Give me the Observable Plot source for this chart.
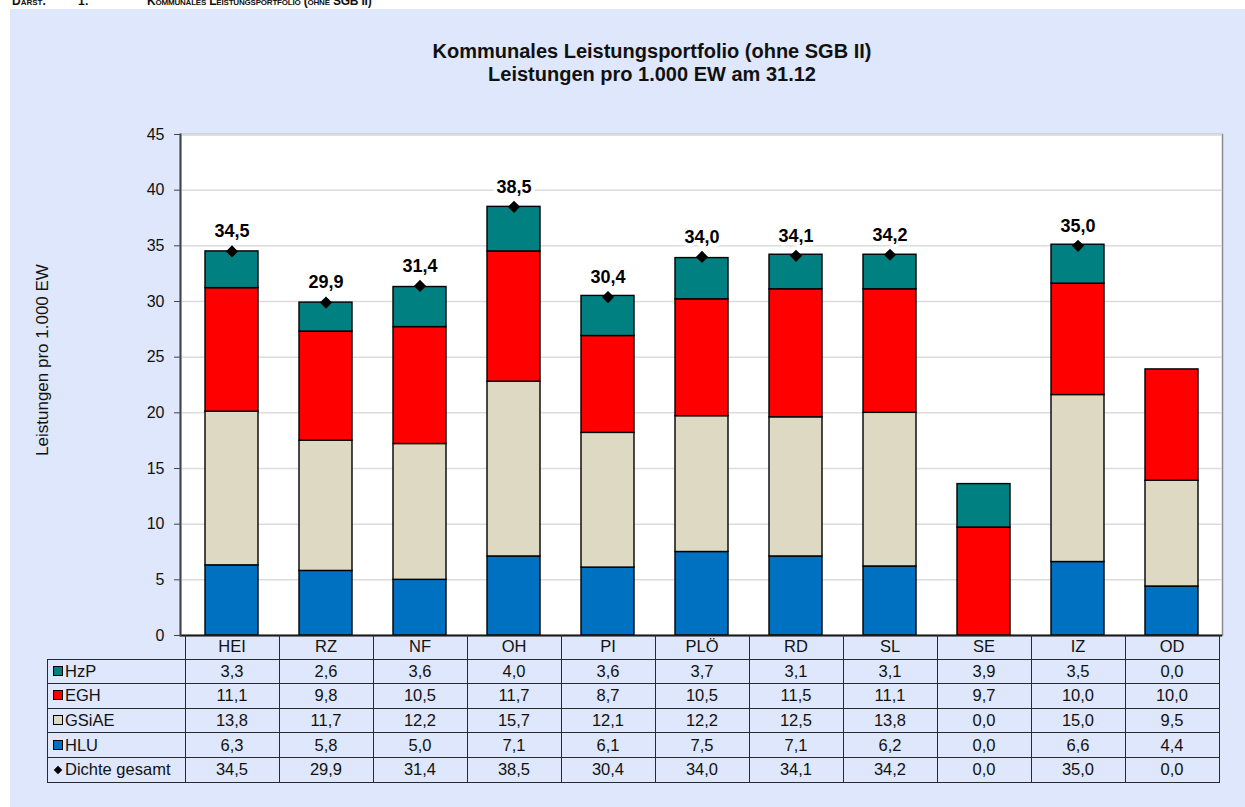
<!DOCTYPE html>
<html><head><meta charset="utf-8">
<script src="https://cdn.jsdelivr.net/npm/d3@7"></script>
<script src="https://cdn.jsdelivr.net/npm/@observablehq/plot@0.6"></script>
<style>
html,body{margin:0;padding:0;background:#fff;overflow:hidden;}
#root{position:relative;width:1245px;height:807px;font-family:Arial,"Liberation Sans",sans-serif;color:#111;overflow:hidden;}
#panel{position:absolute;left:10px;top:9px;right:0;bottom:0;background:#dee7fb;}
#hdr{position:absolute;top:-5px;left:12px;font-weight:bold;font-size:12px;line-height:13px;font-variant:small-caps;white-space:nowrap;color:#111;}
#title{position:absolute;left:352px;width:600px;top:40px;text-align:center;font-weight:bold;font-size:20px;line-height:23px;color:#111;}
#ylab{position:absolute;left:43px;top:360px;transform:translate(-50%,-50%) rotate(-90deg);font-size:17px;white-space:nowrap;color:#111;}
#chart{position:absolute;left:0;top:0;}
#tbl{position:absolute;top:635px;left:47px;border-collapse:collapse;table-layout:fixed;font-size:16.5px;color:#111;}
#tbl td{border:1px solid #2a2a2a;height:23.6px;padding:0;text-align:center;white-space:nowrap;}
#tbl td.lab{text-align:left;padding-left:5px;}
#tbl tr.head td{border-top:none;}
#tbl td.blank{border:none;}
.sw{display:inline-block;width:8px;height:8px;border:1px solid #000;margin-right:2px;vertical-align:1px;}
.dm{display:inline-block;width:6px;height:6px;background:#000;transform:rotate(45deg);margin:0 4px 0 2px;vertical-align:2px;}
</style>
</head><body>
<div id="root">
  <div id="panel"></div>
  <div id="hdr"><span>Darst.</span><span style="position:absolute;left:66px;">1:</span><span style="position:absolute;left:135px;letter-spacing:-0.2px;">Kommunales Leistungsportfolio (ohne SGB II)</span></div>
  <div id="title">Kommunales Leistungsportfolio (ohne SGB II)<br>Leistungen pro 1.000 EW am 31.12</div>
  <div id="chart"></div>
  <div id="ylab">Leistungen pro 1.000 EW</div>
</div>
<script>
const categories = ["HEI","RZ","NF","OH","PI","PLÖ","RD","SL","SE","IZ","OD"];
const HzP   = [3.3, 2.6, 3.6, 4.0, 3.6, 3.7, 3.1, 3.1, 3.9, 3.5, 0.0];
const EGH   = [11.1, 9.8, 10.5, 11.7, 8.7, 10.5, 11.5, 11.1, 9.7, 10.0, 10.0];
const GSiAE = [13.8, 11.7, 12.2, 15.7, 12.1, 12.2, 12.5, 13.8, 0.0, 15.0, 9.5];
const HLU   = [6.3, 5.8, 5.0, 7.1, 6.1, 7.5, 7.1, 6.2, 0.0, 6.6, 4.4];
const dichte = [34.5, 29.9, 31.4, 38.5, 30.4, 34.0, 34.1, 34.2, 0.0, 35.0, 0.0];
const seriesNames = ["HLU","GSiAE","EGH","HzP"];       // stack order bottom -> top
const seriesColors = ["#0070c0","#ddd9c3","#ff0000","#008080"];
const yTicks = [0,5,10,15,20,25,30,35,40,45];
const tableRows = [["HzP",HzP],["EGH",EGH],["GSiAE",GSiAE],["HLU",HLU]];

const fmt = v => v.toFixed(1).replace(".", ",");
const seriesData = {HLU, GSiAE, EGH, HzP};
const rows = [];
categories.forEach((c,i) => seriesNames.forEach(s => rows.push({cat:c, series:s, value:seriesData[s][i]})));
const totals = categories.map((c,i) => ({cat:c, total:dichte[i]})).filter(d => d.total > 0);

const font = 'Arial, "Liberation Sans", sans-serif';
const chart = Plot.plot({
  width: 1245, height: 640,
  marginLeft: 180, marginRight: 23, marginTop: 134, marginBottom: 5,
  style: {background:"transparent", fontFamily: font, fontSize:"16px", color:"#111", overflow:"visible"},
  x: {domain: categories, paddingInner: 0.44, paddingOuter: 0.22, axis: null},
  y: {domain: [0,45], axis: null},
  color: {domain: seriesNames, range: seriesColors},
  marks: [
    Plot.frame({fill:"white", stroke:"#8c8c8c", strokeWidth:1.5}),
    Plot.gridY(yTicks, {stroke:"#dcdcdc", strokeOpacity:1, strokeWidth:1.5}),
    Plot.barY(rows, {x:"cat", y:"value", fill:"series", stroke:"#000", strokeWidth:1.4, order:null}),
    Plot.ruleY([0], {stroke:"#1a1a1a", strokeWidth:2}),
    Plot.axisY({ticks: yTicks, tickSize:6, tickPadding:10, fontSize:16, stroke:"#444", fill:"#111"}),
    Plot.frame({anchor:"left", stroke:"#444", strokeWidth:2}),
    Plot.text(totals, {x:"cat", y:"total", dy:-20, text: d => fmt(d.total), fontWeight:"bold", fontSize:18, fill:"#000", stroke:"white", strokeWidth:7}),
    Plot.dot(totals, {x:"cat", y:"total", symbol:"diamond2", r:5.5, fill:"#000", stroke:"none"})
  ]
});
document.getElementById("chart").appendChild(chart);

// data table below the chart, aligned to the band scale
const xs = chart.scale("x");
const step = xs.step;
const tbl = document.createElement("table");
tbl.id = "tbl";
const cg = document.createElement("colgroup");
const labW = xs.apply(categories[0]) - (step - xs.bandwidth)/2 - 47;
let col = document.createElement("col"); col.style.width = labW + "px"; cg.appendChild(col);
categories.forEach(() => { const c = document.createElement("col"); c.style.width = step + "px"; cg.appendChild(c); });
tbl.appendChild(cg);
let tr = document.createElement("tr"); tr.className = "head";
let td = document.createElement("td"); td.className = "blank"; tr.appendChild(td);
categories.forEach(c => { const t = document.createElement("td"); t.textContent = c; tr.appendChild(t); });
tbl.appendChild(tr);
tableRows.forEach(([name, vals]) => {
  const r = document.createElement("tr");
  const l = document.createElement("td"); l.className = "lab";
  const sw = document.createElement("span"); sw.className = "sw";
  sw.style.background = seriesColors[seriesNames.indexOf(name)];
  l.appendChild(sw); l.appendChild(document.createTextNode(name)); r.appendChild(l);
  vals.forEach(v => { const t = document.createElement("td"); t.textContent = fmt(v); r.appendChild(t); });
  tbl.appendChild(r);
});
const rd = document.createElement("tr");
const ld = document.createElement("td"); ld.className = "lab";
const dm = document.createElement("span"); dm.className = "dm";
ld.appendChild(dm); ld.appendChild(document.createTextNode("Dichte gesamt")); rd.appendChild(ld);
dichte.forEach(v => { const t = document.createElement("td"); t.textContent = fmt(v); rd.appendChild(t); });
tbl.appendChild(rd);
tbl.style.width = (labW + step*categories.length) + "px";
document.getElementById("root").appendChild(tbl);
</script>
</body></html>
